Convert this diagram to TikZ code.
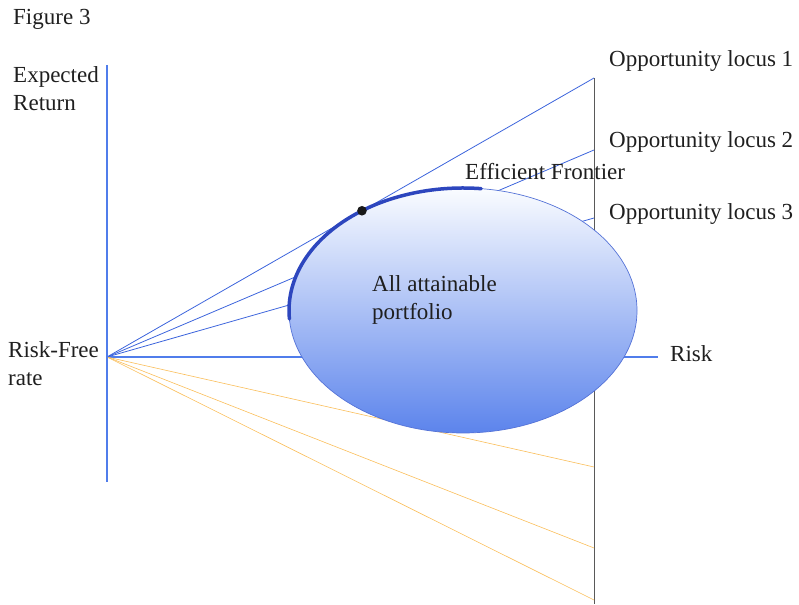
\documentclass[tikz,border=0pt]{standalone}
\usepackage{fontspec}
\setmainfont{Liberation Serif}
\usetikzlibrary{shapes.geometric}
\begin{document}
\begin{tikzpicture}[x=1pt,y=1pt,
  lbl/.style={font=\fontsize{23}{28.5}\selectfont, inner sep=0pt, anchor=base west, align=left, text=black!88},
  axisline/.style={draw={rgb,255:red,80;green,125;blue,235}, line width=1.3pt},
  ray/.style={draw={rgb,255:red,60;green,100;blue,220}, line width=0.8pt},
  lowray/.style={draw={rgb,255:red,250;green,190;blue,90}, line width=0.6pt},
  riskline/.style={draw=black!65, line width=0.8pt},
  frontier/.style={draw={rgb,255:red,45;green,70;blue,190}, line width=3.5pt, line cap=round}]
\useasboundingbox (0,0) rectangle (799,604);

% key points
\coordinate (O) at (107,247);
\coordinate (ytop) at (107,539);
\coordinate (ybot) at (107,122);
\coordinate (xend) at (658,247);
\coordinate (vtop) at (594,526);
\coordinate (vbot) at (594,0);
\coordinate (e1) at (594,526);
\coordinate (e2) at (594,454);
\coordinate (e3) at (594,386);
\coordinate (f1) at (594,137);
\coordinate (f2) at (594,56);
\coordinate (f3) at (594,4);

% lines lying behind the attainable set
\draw[axisline] (O) -- (xend);
\draw[riskline] (vtop) -- (vbot);
\draw[ray] (O) -- (e1);
\draw[ray] (O) -- (e2);
\draw[ray] (O) -- (e3);
\draw[lowray] (O) -- (f1);
\draw[lowray] (O) -- (f2);
\draw[lowray] (O) -- (f3);

% set of attainable portfolios
\node[ellipse, minimum width=348pt, minimum height=245pt, inner sep=0pt,
      draw={rgb,255:red,85;green,115;blue,215}, line width=0.7pt,
      top color={rgb,255:red,250;green,252;blue,255},
      middle color={rgb,255:red,198;green,215;blue,247},
      bottom color={rgb,255:red,92;green,132;blue,236}] (set) at (463,293.5) {};

% efficient frontier and tangency portfolio
\draw[frontier] ([shift={(184:174 and 122.5)}]set.center) arc[start angle=184, end angle=84, x radius=174, y radius=122.5];
\fill[black!90] ([shift={(125.5:174 and 122.5)}]set.center) circle (4.8);

% expected return axis
\draw[axisline] (ytop) -- (ybot);

% labels
\node[lbl] (fig) at (13,579) {Figure 3};
\node[lbl] (er) at (13,493) {Expected\\Return};
\node[lbl] (rf) at (8,218) {Risk-Free\\rate};
\node[lbl] (ol1) at (609,537) {Opportunity locus 1};
\node[lbl] (ol2) at (609,456) {Opportunity locus 2};
\node[lbl] (ol3) at (609,384) {Opportunity locus 3};
\node[lbl] (ef) at (465,424) {Efficient Frontier};
\node[lbl] (risk) at (670,242) {Risk};
\node[lbl] (all) at (372,284) {All attainable\\portfolio};
\end{tikzpicture}
\end{document}
